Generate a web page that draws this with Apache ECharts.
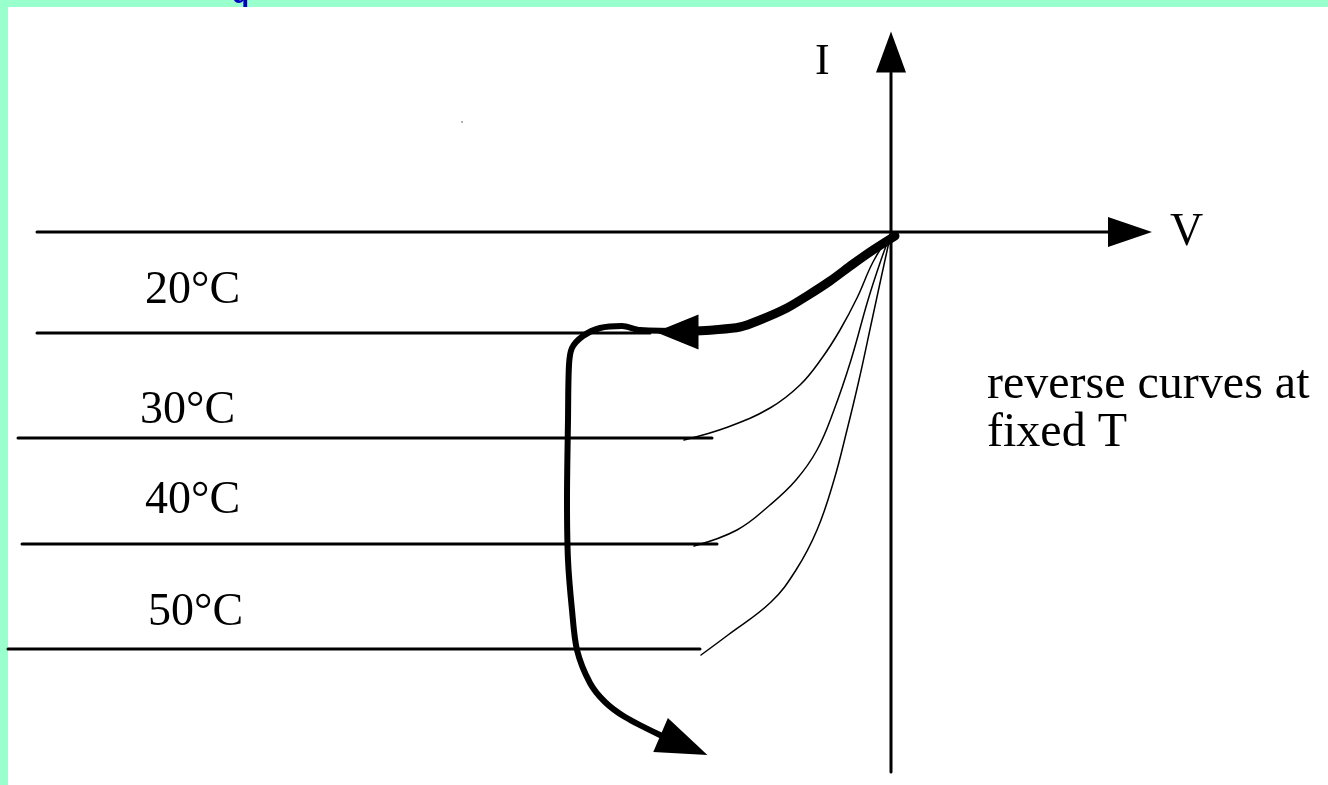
<!DOCTYPE html>
<html>
<head>
<meta charset="utf-8">
<script src="https://cdn.jsdelivr.net/npm/echarts@6.0.0/dist/echarts.min.js"></script>
<style>
  html, body { margin: 0; padding: 0; background: #99ffcc; }
  #chart { width: 1328px; height: 785px; }
</style>
</head>
<body>
<div id="chart"></div>
<script>
// units: V and I in arbitrary units (1 unit ~ 10px), origin where the axes cross
const vAxisLine = [[-85.4, 0], [21.9, 0]];
const iAxisLine = [[0, -54.0], [0, 15.9]];

const temps = ['20°C', '30°C', '40°C', '50°C'];
const tempLevels = [-10.1, -20.6, -31.2, -41.7];
const tempLineStart = [-85.4, -87.3, -86.9, -88.3];
const tempLineEnd = [-24.1, -17.9, -17.4, -19.1];
const tempLabelPos = [[-74.6, -5.9], [-75.1, -17.9], [-74.6, -26.9], [-74.3, -38.1]];

// reverse curves at fixed T (thin)
const curve30 = [[-20.7, -20.8], [-16.3, -19.5], [-12.1, -17.6], [-9.1, -15.3], [-6.9, -12.6],
  [-5.1, -9.8], [-3.4, -6.6], [-1.8, -3.0], [0, -0.1]];
const curve40 = [[-19.7, -31.4], [-15.4, -29.8], [-12.1, -27.3], [-9.5, -24.8], [-7.4, -21.8],
  [-5.7, -17.8], [-4.0, -12.8], [-2.3, -6.8], [-1.0, -2.8], [0, -0.1]];
const curve50 = [[-19.0, -42.3], [-16.3, -40.3], [-12.0, -37.0], [-9.5, -33.8], [-7.4, -29.8],
  [-5.7, -24.8], [-4.4, -19.8], [-3.2, -14.8], [-1.9, -8.8], [-0.6, -2.8], [0, -0.1]];

// bold path (runaway)
const boldPart1 = [[0.4, -0.4], [-1.8, -1.8], [-3.8, -3.2], [-6.1, -4.9], [-8.4, -6.4],
  [-10.4, -7.6], [-13.1, -8.8], [-15.1, -9.5], [-17.8, -9.8], [-19.6, -9.9]];
const boldPart2 = [[-20.1, -9.9], [-25.1, -9.8], [-26.9, -9.4], [-29.1, -9.6], [-30.8, -10.4],
  [-31.9, -11.6], [-32.2, -13.3], [-32.3, -18.8], [-32.4, -26.8], [-32.3, -32.8], [-31.9, -37.8],
  [-31.4, -41.8], [-30.1, -45.1], [-28.6, -47.0], [-26.6, -48.5], [-23.1, -50.3]];

// arrow heads: [V, I, base, length, rotation]
const arrowHeads = [[0, 18.0, 30, 41, 0], [23.9, 0, 30, 44, -90],
  [-21.4, -10.0, 35, 43, 90], [-20.7, -51.3, 37, 51, -113.3]];

const axisNames = [['I', -7.6, 17.0], ['V', 27.9, -0.1]];
const noteText = 'reverse curves at\nfixed T';
const notePos = [9.6, -17.7];
const speck = [-42.9, 11.0];

const chart = echarts.init(document.getElementById('chart'));

const serif = 'Liberation Serif, Times New Roman, serif';

function line(data, width, smooth) {
  return {
    type: 'line', data, smooth: smooth || false, symbol: 'none', silent: true,
    lineStyle: { color: '#000', width, cap: 'round', join: 'round' }
  };
}

function labels(items, size, lineHeight) {
  return {
    type: 'scatter', symbolSize: 1, silent: true,
    itemStyle: { color: 'rgba(0,0,0,0)', opacity: 1 },
    data: items.map(d => ({ name: d[0], value: [d[1], d[2]] })),
    label: {
      show: true, formatter: '{b}', position: 'inside', align: 'left', verticalAlign: 'middle',
      color: '#000', fontSize: size, fontFamily: serif, lineHeight: lineHeight || size
    }
  };
}

const series = [
  line(vAxisLine, 3),
  line(iAxisLine, 3)
];
temps.forEach((t, i) => {
  series.push(line([[tempLineStart[i], tempLevels[i]], [tempLineEnd[i], tempLevels[i]]], 3));
});
series.push(line(curve30, 1.5, 0.4), line(curve40, 1.5, 0.4), line(curve50, 1.5, 0.4));
series.push(line(boldPart1, 9, 0.3), line(boldPart2, 6, 0.3));

arrowHeads.forEach(a => {
  series.push({
    type: 'scatter', silent: true, symbol: 'triangle',
    symbolSize: [a[2], a[3]], symbolRotate: a[4],
    itemStyle: { color: '#000', opacity: 1 },
    data: [[a[0], a[1]]]
  });
});

series.push(labels(temps.map((t, i) => [t, tempLabelPos[i][0], tempLabelPos[i][1]]), 46));
series.push(labels([axisNames[0]], 44));
series.push(labels([axisNames[1]], 46));
series.push(labels([[noteText, notePos[0], notePos[1]]], 48, 48));
series.push({
  type: 'scatter', silent: true, symbolSize: 2,
  itemStyle: { color: '#999', opacity: 1 }, data: [speck]
});

chart.setOption({
  animation: false,
  backgroundColor: '#99ffcc',
  graphic: [
    {
      type: 'text', left: 232, top: -19, z: 0,
      style: { text: 'q', fill: '#0000bb', font: 'bold 28px Liberation Sans, Arial, sans-serif' }
    },
    {
      type: 'rect', left: 8, top: 7, z: 0,
      shape: { width: 1320, height: 778 },
      style: { fill: '#fff' }
    }
  ],
  grid: { left: 0, right: 0, top: 0, bottom: 0 },
  xAxis: { type: 'value', min: -89.1, max: 43.7, show: false },
  yAxis: { type: 'value', min: -55.3, max: 23.2, show: false },
  series
});
</script>
</body>
</html>
